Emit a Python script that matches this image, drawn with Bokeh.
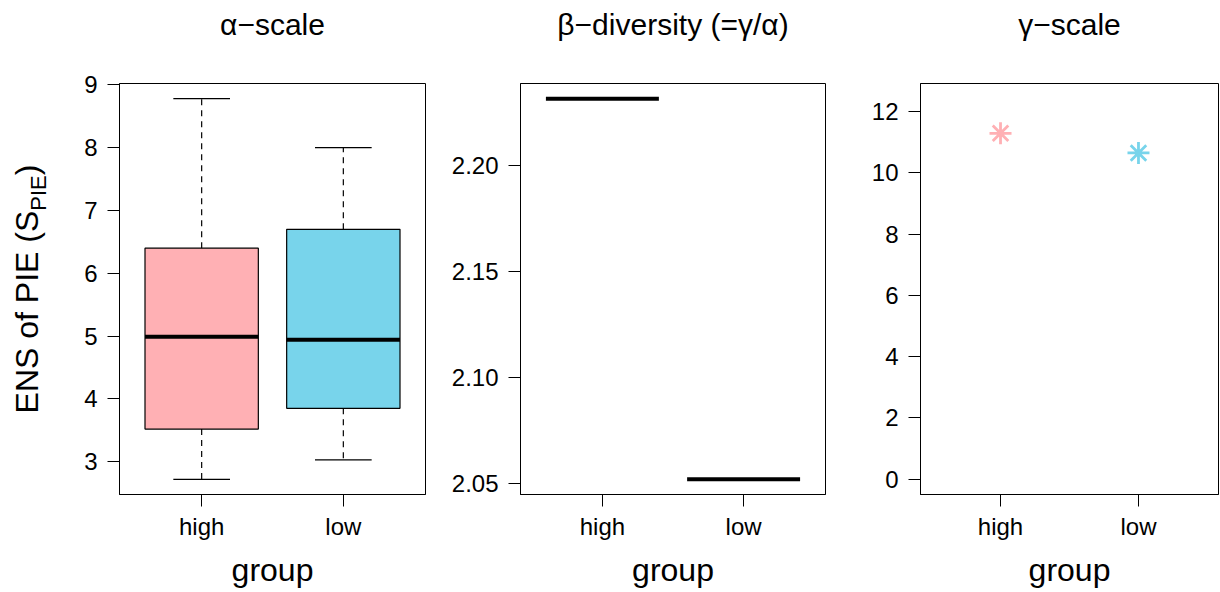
import math
from bokeh.plotting import figure
from bokeh.layouts import row, column
from bokeh.models import FixedTicker, Range1d, Spacer
from bokeh.core.properties import value
from bokeh.embed import file_html
from bokeh.resources import INLINE

# ---------------- data ----------------
groups = ["high", "low"]
group_colors = ["#FFB0B4", "#78D4EB"]

# alpha-scale boxplot statistics (per group)
alpha_lower = [2.72, 3.03]
alpha_q1 = [3.52, 3.85]
alpha_median = [4.99, 4.94]
alpha_q3 = [6.40, 6.70]
alpha_upper = [8.78, 8.00]

# beta-diversity (= gamma / alpha), one value per group
beta_values = [2.2314, 2.0522]

# gamma-scale ENS, one value per group
gamma_values = [11.29, 10.65]

alpha_ticks = [3, 4, 5, 6, 7, 8, 9]
beta_ticks = [2.05, 2.10, 2.15, 2.20]
gamma_ticks = [0, 2, 4, 6, 8, 10, 12]

titles = ["\u03b1\u2212scale", "\u03b2\u2212diversity (=\u03b3/\u03b1)", "\u03b3\u2212scale"]
x_label = "group"
y_label_main = "ENS of PIE (S"
y_label_sub = "PIE"
y_label_end = ")"

FONT = "Liberation Sans"
TH = 60          # height of the title strip
H = 592 - TH     # height of the plot row
TOP = 23
BOTTOM = 98
FRAME_H = H - TOP - BOTTOM
LW = 60

# panel geometry: (total width, left border, right border)
geoms = [(385, 59, 20), (420, 75, 40), (355, 55, 2)]

# ---------------- helpers ----------------
pos = [i + 1 for i in range(len(groups))]


def padded(lo, hi, f=0.04):
    d = (hi - lo) * f
    return lo - d, hi + d


xlo, xhi = padded(0.5, len(groups) + 0.5)


def blank_fig(width, height, bl, br, top, bottom, xr, yr):
    p = figure(width=width, height=height, output_backend="svg", toolbar_location=None,
               x_range=xr, y_range=yr, x_axis_type=None, y_axis_type=None,
               min_border_left=bl, min_border_right=br,
               min_border_top=top, min_border_bottom=bottom)
    p.xgrid.visible = False
    p.ygrid.visible = False
    p.outline_line_color = None
    return p


def title_fig(i):
    w, bl, br = geoms[i]
    t = blank_fig(w, TH, bl, br, 0, 0, Range1d(xlo, xhi), Range1d(0, TH))
    t.text(x=[(xlo + xhi) / 2], y=[TH - 24], text=[titles[i]],
           text_font=value(FONT), text_font_size="30px", text_align="center",
           text_baseline="middle", text_color="black")
    return t


def make_fig(i, ylo, yhi, ticks, fmt=None):
    w, bl, br = geoms[i]
    p = figure(width=w, height=H, output_backend="svg", toolbar_location=None,
               x_range=Range1d(xlo, xhi), y_range=Range1d(ylo, yhi),
               min_border_left=bl, min_border_right=br,
               min_border_top=TOP, min_border_bottom=BOTTOM)
    p.xgrid.visible = False
    p.ygrid.visible = False
    p.background_fill_color = "white"
    p.border_fill_color = "white"
    p.outline_line_color = "black"
    p.outline_line_width = 1
    p.outline_line_alpha = 1
    for ax in (p.xaxis[0], p.yaxis[0]):
        ax.axis_line_color = "black"
        ax.axis_line_width = 1
        ax.major_tick_line_color = "black"
        ax.major_tick_line_width = 1
        ax.major_tick_in = 0
        ax.major_tick_out = 12
        ax.minor_tick_line_color = None
        ax.major_label_text_font = FONT
        ax.major_label_text_font_size = "24px"
        ax.major_label_text_color = "black"
        ax.major_label_standoff = 10
    p.xaxis.ticker = FixedTicker(ticks=pos)
    p.xaxis.major_label_overrides = {pv: g for pv, g in zip(pos, groups)}
    p.xaxis.major_label_standoff = 6
    p.xaxis.axis_label = x_label
    p.xaxis.axis_label_text_font = FONT
    p.xaxis.axis_label_text_font_size = "32px"
    p.xaxis.axis_label_text_font_style = "normal"
    p.xaxis.axis_label_text_color = "black"
    p.xaxis.axis_label_standoff = 9
    p.yaxis.ticker = FixedTicker(ticks=ticks)
    if fmt:
        p.yaxis.major_label_overrides = {t: fmt.format(t) for t in ticks}
    return p


# ---------------- y label figure ----------------
lab = blank_fig(LW, H, 0, 0, TOP, BOTTOM, Range1d(0, LW), Range1d(0, FRAME_H))
main_px, sub_px = 32, 22
w_main = 6.336 * main_px
w_sub = 1.612 * sub_px
w_end = 0.333 * main_px
total = w_main + w_sub + w_end
start = FRAME_H / 2 - total / 2
common = dict(angle=math.pi / 2, text_font=value(FONT), text_align="left",
              text_baseline="middle", text_color="black")
lab.text(x=[26], y=[start], text=[y_label_main], text_font_size=f"{main_px}px", **common)
lab.text(x=[38], y=[start + w_main], text=[y_label_sub], text_font_size=f"{sub_px}px", **common)
lab.text(x=[26], y=[start + w_main + w_sub], text=[y_label_end], text_font_size=f"{main_px}px", **common)

# ---------------- panel 1: alpha boxplots ----------------
a_lo, a_hi = padded(min(alpha_lower), max(alpha_upper))
p1 = make_fig(0, a_lo, a_hi, alpha_ticks)
bw = 0.8
cap = bw / 2
p1.segment(x0=pos, y0=alpha_q3, x1=pos, y1=alpha_upper, line_color="black",
           line_width=1.2, line_dash="6 5")
p1.segment(x0=pos, y0=alpha_q1, x1=pos, y1=alpha_lower, line_color="black",
           line_width=1.2, line_dash="6 5")
p1.segment(x0=[x - cap / 2 for x in pos], y0=alpha_upper,
           x1=[x + cap / 2 for x in pos], y1=alpha_upper, line_color="black", line_width=1.2)
p1.segment(x0=[x - cap / 2 for x in pos], y0=alpha_lower,
           x1=[x + cap / 2 for x in pos], y1=alpha_lower, line_color="black", line_width=1.2)
p1.vbar(x=pos, width=bw, bottom=alpha_q1, top=alpha_q3, fill_color=group_colors,
        line_color="black", line_width=1.2)
p1.segment(x0=[x - bw / 2 for x in pos], y0=alpha_median,
           x1=[x + bw / 2 for x in pos], y1=alpha_median, line_color="black",
           line_width=4, line_cap="butt")

# ---------------- panel 2: beta ----------------
b_lo, b_hi = padded(min(beta_values), max(beta_values))
p2 = make_fig(1, b_lo, b_hi, beta_ticks, fmt="{:.2f}")
p2.segment(x0=[x - bw / 2 for x in pos], y0=beta_values,
           x1=[x + bw / 2 for x in pos], y1=beta_values, line_color="black",
           line_width=4, line_cap="butt")

# ---------------- panel 3: gamma ----------------
g_lo, g_hi = padded(0, max(gamma_values) * 1.1)
p3 = make_fig(2, g_lo, g_hi, gamma_ticks)
p3.scatter(x=pos, y=gamma_values, marker="asterisk", size=22, line_width=2.8,
           line_color=group_colors)

layout = column(
    row(Spacer(width=LW, height=TH), title_fig(0), title_fig(1), title_fig(2)),
    row(lab, p1, p2, p3),
)
open("out.html", "w").write(file_html(layout, INLINE))
